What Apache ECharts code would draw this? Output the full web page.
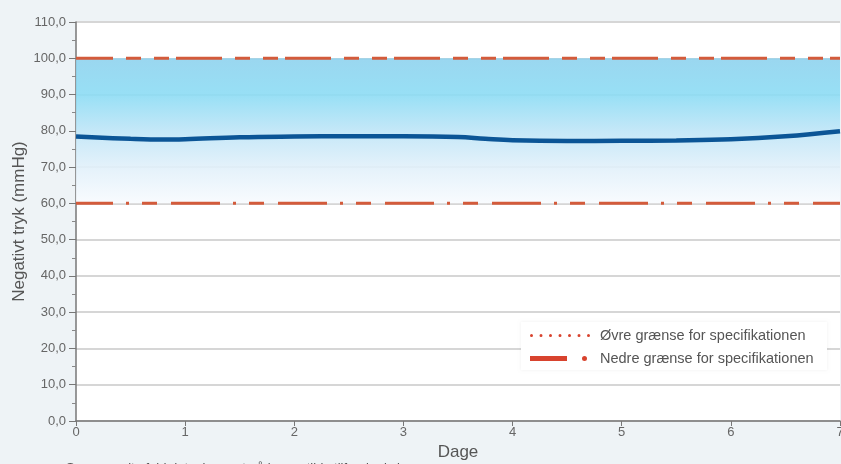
<!DOCTYPE html>
<html>
<head>
<meta charset="utf-8">
<script src="https://cdn.jsdelivr.net/npm/echarts@6/dist/echarts.min.js"></script>
<style>
html,body{margin:0;padding:0;background:#eef3f6;}
#c{width:841px;height:464px;}
</style>
</head>
<body>
<div id="c"></div>
<script>
// ---- data ----
var days = [0, 0.5, 0.8, 1, 1.5, 2, 2.5, 3, 3.5, 3.75, 4, 4.5, 5, 5.5, 6, 6.5, 7];
var pressure = [78.4, 77.8, 77.6, 77.7, 78.2, 78.4, 78.5, 78.5, 78.3, 77.8, 77.4, 77.2, 77.25, 77.35, 77.65, 78.5, 79.9];
var specRangeX = [0, 7];
var upperLimit = 100;
var lowerLimit = 60;
var xTicks = [0, 1, 2, 3, 4, 5, 6, 7];
var seriesNames = ['Øvre grænse for specifikationen', 'Nedre grænse for specifikationen'];
var xName = 'Dage';
var yName = 'Negativt tryk (mmHg)';
var footnote = 'Som en suite fuld data, baseret på kompatible tilførsler i sig';

var FONT = '"Liberation Sans", Arial, Helvetica, sans-serif';
var limitColor = '#d35b3b';

var chart = echarts.init(document.getElementById('c'), null, {renderer: 'canvas'});

function pairs(xs, ys) { return xs.map(function (x, i) { return [x, ys[i]]; }); }
function flat(v) { return specRangeX.map(function (x) { return [x, v]; }); }

var dotPath = 'path://';
for (var i = 0; i < 7; i++) {
  var cx = i * 9.5;
  dotPath += 'M' + cx + ',1.5a1.5,1.5 0 1,0 3,0a1.5,1.5 0 1,0 -3,0z';
}
var barDotPath = 'path://M0,0h37v5h-37zM52,2.5a2.5,2.5 0 1,0 5,0a2.5,2.5 0 1,0 -5,0z';

// grid line colours per tick 0..110 (line at 80 is not visible in the original)
var gridColors = [];
for (var k = 0; k <= 11; k++) gridColors.push(k === 8 ? 'rgba(0,0,0,0)' : '#d6d6d6');

var option = {
  backgroundColor: '#eef3f6',
  animation: false,
  grid: {left: 76, right: 1, top: 22, bottom: 43, show: true, backgroundColor: '#ffffff', borderWidth: 0,
    containLabel: false, outerBoundsMode: 'none'},
  xAxis: {
    type: 'value', min: xTicks[0], max: xTicks[xTicks.length - 1], interval: 1,
    name: xName, nameLocation: 'middle', nameGap: 23, nameMoveOverlap: false,
    nameTextStyle: {fontFamily: FONT, fontSize: 17, color: '#555'},
    axisLine: {show: true, lineStyle: {color: '#777', width: 1.5}},
    axisTick: {show: true, length: 5, lineStyle: {color: '#777'}},
    axisLabel: {fontFamily: FONT, fontSize: 13, color: '#666', margin: 5, showMaxLabel: true},
    splitLine: {show: false}
  },
  yAxis: {
    type: 'value', min: 0, max: 110, interval: 10,
    name: yName, nameLocation: 'middle', nameGap: 48, nameRotate: 90, nameMoveOverlap: false,
    nameTextStyle: {fontFamily: FONT, fontSize: 17, color: '#555'},
    axisLine: {show: true, lineStyle: {color: '#777', width: 1.5}},
    axisTick: {show: true, length: 7, lineStyle: {color: '#777'}},
    minorTick: {show: true, splitNumber: 2, length: 4, lineStyle: {color: '#888'}},
    axisLabel: {fontFamily: FONT, fontSize: 13, color: '#666', margin: 10,
      formatter: function (v) { return v.toFixed(1).replace('.', ','); }},
    splitLine: {show: true, lineStyle: {color: gridColors, width: 2}}
  },
  legend: [
    {
      data: [{name: seriesNames[0], icon: dotPath, itemStyle: {color: '#d8432e'}}],
      left: 530, top: 328, orient: 'vertical', padding: 0,
      itemWidth: 60, itemHeight: 3, selectedMode: false,
      textStyle: {fontFamily: FONT, fontSize: 14.5, color: '#555', padding: [0, 0, 0, 5]}
    },
    {
      data: [{name: seriesNames[1], icon: barDotPath, itemStyle: {color: '#d8432e'}}],
      left: 530, top: 351, orient: 'vertical', padding: 0,
      itemWidth: 57, itemHeight: 5, selectedMode: false,
      textStyle: {fontFamily: FONT, fontSize: 14.5, color: '#555', padding: [0, 0, 0, 8]}
    }
  ],
  graphic: [
    {type: 'rect', left: 521, top: 322, z: 3,
      shape: {width: 306, height: 48},
      style: {fill: '#ffffff', shadowBlur: 3, shadowColor: 'rgba(0,0,0,0.06)'}},
    {type: 'text', left: 66, top: 462, z: 5,
      style: {text: footnote, fontFamily: FONT, fontSize: 13, fill: '#555'}}
  ],
  series: [
    {
      name: 'band', type: 'line', data: [], symbol: 'none', silent: true, z: 1,
      markArea: {
        silent: true,
        itemStyle: {
          opacity: 0.9,
          color: new echarts.graphic.LinearGradient(0, 0, 0, 1, [
            {offset: 0, color: '#8fd2ee'},
            {offset: 0.25, color: '#8cdcf4'},
            {offset: 0.5, color: '#bee5f7'},
            {offset: 0.75, color: '#e1f0fa'},
            {offset: 1, color: '#f8fbfe'}
          ])
        },
        data: [[{yAxis: upperLimit}, {yAxis: lowerLimit}]]
      }
    },
    {
      name: seriesNames[0], type: 'line', data: flat(upperLimit), symbol: 'none', z: 3,
      color: limitColor,
      lineStyle: {color: limitColor, width: 3, type: [46, 13, 15, 13, 15, 7], dashOffset: 9}
    },
    {
      name: seriesNames[1], type: 'line', data: flat(lowerLimit), symbol: 'none', z: 3,
      color: limitColor,
      lineStyle: {color: limitColor, width: 3, type: [49, 13, 3, 13, 15, 14], dashOffset: 12}
    },
    {
      name: 'Tryk', type: 'line', data: pairs(days, pressure), symbol: 'none', smooth: 0.4, z: 4,
      lineStyle: {color: '#0b5596', width: 4.5}
    }
  ]
};
chart.setOption(option);
</script>
</body>
</html>
